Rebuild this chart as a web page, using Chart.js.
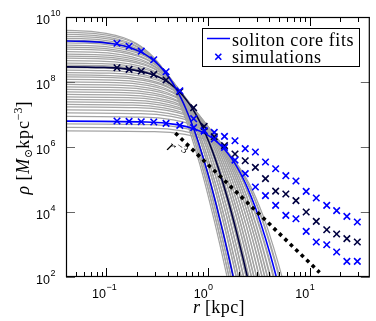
<!DOCTYPE html>
<html>
<head>
<meta charset="utf-8">
<script src="https://cdn.jsdelivr.net/npm/chart.js@4.4.1/dist/chart.umd.min.js"></script>
<style>
  body { margin: 0; background: #fff; }
  #wrap { width: 376px; height: 321px; }
</style>
</head>
<body>
<div id="wrap"><canvas id="soliton-profiles"></canvas></div>
<script>
// simulation radii [kpc] and densities [Msun/kpc^3]
var simRadius = [0.127, 0.167, 0.22, 0.292, 0.386, 0.527, 0.721, 0.915, 1.15, 1.45, 1.84, 2.32,
  2.92, 3.67, 4.62, 5.82, 7.32, 9.23, 11.6, 14.7, 18.4, 23.2, 29.4]
var simHighCore = [1.56e9, 1.26e9, 8.87e8, 4.85e8, 2.07e8, 5.4e7, 7.43e6, 3.18e6, 1.76e6, 9.7e5, 3.93e5, 1.51e5,
  5.87e4, 3.18e4, 1.6e4, 7.85e3, 6.22e3, 2.53e3, 1.19e3, 986, 587, 302, 302]
var simMidCore = [2.75e8, 2.44e8, 2.18e8, 1.71e8, 1.15e8, 5.03e7, 1.62e7, 4.31e6, 2.07e6, 1.1e6, 6.1e5, 3.78e5,
  2.36e5, 1.06e5, 4.37e4, 3.58e4, 2.23e4, 1.0e4, 5.14e3, 2.85e3, 2.1e3, 1.51e3, 1.19e3]
var simLowCore = [6.31e6, 6.14e6, 6.0e6, 5.87e6, 5.32e6, 4.62e6, 3.93e6, 3.06e6, 2.81e6, 2.12e6, 1.56e6, 8.87e5,
  7.02e5, 3.45e5, 2.15e5, 1.31e5, 8.99e4, 4.31e4, 2.7e4, 1.6e4, 1.1e4, 7.33e3, 4.92e3]
var simColors = ['#0000ff', '#000040', '#0000ff']

// soliton core fits: central density and core radius
var fitCoreDensity = [1.9e9, 3.0e8, 6.3e6]
var fitCoreRadius = [0.2, 0.315, 0.82]
var fitColors = ['#0000e6', '#000040', '#0000ff']

// the grey fan of soliton profiles
var greyCoreDensity = [4.06e9, 3.53e9, 3.06e9, 2.66e9, 2.31e9, 2.0e9, 1.68e9, 1.41e9, 1.22e9, 1.06e9,
  8.87e8, 7.43e8, 6.44e8, 5.6e8, 4.69e8, 3.93e8, 3.4e8, 2.85e8, 2.39e8, 2.0e8,
  1.68e8, 1.46e8, 1.22e8, 1.02e8, 8.55e7, 7.16e7, 6.0e7, 5.04e7, 4.22e7, 3.53e7,
  2.96e7, 2.48e7, 2.07e7, 1.74e7, 1.41e7, 1.14e7, 8.87e6, 5.21e6, 4.06e6, 3.18e6]
var greyCoreRadius = [0.165, 0.174, 0.176, 0.186, 0.188, 0.199, 0.204, 0.219, 0.221, 0.234,
  0.239, 0.256, 0.259, 0.275, 0.281, 0.300, 0.304, 0.325, 0.332, 0.355,
  0.362, 0.384, 0.393, 0.420, 0.428, 0.459, 0.468, 0.502, 0.512, 0.548,
  0.560, 0.598, 0.612, 0.654, 0.675, 0.727, 0.757, 0.884, 0.92, 0.989]

// soliton shape: rho/rho_c against r/r_c
var profileX = [0.02, 0.3, 0.6, 0.9, 1.2, 1.5, 1.8, 2.1, 2.4, 2.7, 3.0, 3.5, 4, 5, 6, 7, 8, 10, 12]
var profileRho = [1, 0.9368, 0.7727, 0.5661, 0.3734, 0.2253, 0.1266, 0.06726, 0.03435, 0.01706,
  0.00835, 2.5e-3, 7.55e-4, 7.55e-5, 8.94e-6, 1.27e-6, 2.13e-7, 9.24e-9, 6.4e-10]

// r^-3 guide line
var slopeRadius = [0.476, 12.5]
var slopeDensity = [2.69e6, 138]

var xTicks = [0.1, 1, 10]
var xTickExp = ['\u22121', '0', '1']
var yTicks = [1e2, 1e4, 1e6, 1e8, 1e10]
var yTickExp = ['2', '4', '6', '8', '10']

function solitonPoints(rhoC, rc) {
  return profileX.map(function (s, i) { return { x: s * rc, y: profileRho[i] * rhoC } })
}

var datasets = []
greyCoreDensity.forEach(function (d, i) {
  datasets.push({ data: solitonPoints(d, greyCoreRadius[i]), showLine: true, borderColor: '#a4a4a4',
    borderWidth: 1.25, pointRadius: 0, cubicInterpolationMode: 'monotone', order: 3 })
})
fitCoreDensity.forEach(function (d, i) {
  datasets.push({ data: solitonPoints(d, fitCoreRadius[i]), showLine: true, borderColor: fitColors[i],
    borderWidth: 1.6, pointRadius: 0, cubicInterpolationMode: 'monotone', order: 2 })
})
datasets.push({
  data: slopeRadius.map(function (r, i) { return { x: r, y: slopeDensity[i] } }),
  showLine: true, borderColor: '#000', borderWidth: 3.6, borderDash: [3.6, 4], pointRadius: 0, order: 1
});
[simHighCore, simMidCore, simLowCore].forEach(function (vals, k) {
  datasets.push({
    data: simRadius.map(function (r, i) { return { x: r, y: vals[i] } }),
    showLine: false, pointStyle: 'crossRot', pointRadius: 4.6, pointBorderWidth: 1.6,
    pointBorderColor: simColors[k], borderColor: simColors[k], order: 0
  })
})

var serif = '"Liberation Serif", "DejaVu Serif", serif'
var sans = '"Liberation Sans", Arial, sans-serif'

function drawParts(ctx, parts, x, y, align) {
  var w = 0
  parts.forEach(function (p) {
    ctx.font = p.font
    ctx.letterSpacing = p.ls || '0px'
    p.w = ctx.measureText(p.text).width
    w += p.w
  })
  var cx = align === 'center' ? x - w / 2 : align === 'right' ? x - w : x
  parts.forEach(function (p) {
    ctx.font = p.font
    ctx.letterSpacing = p.ls || '0px'
    ctx.fillText(p.text, cx, y + (p.dy || 0))
    cx += p.w
  })
  ctx.letterSpacing = '0px'
}

var decor = {
  id: 'decor',
  afterDatasetsDraw: function (chart) {
    var ctx = chart.ctx, a = chart.chartArea, xs = chart.scales.x, ys = chart.scales.y
    ctx.save()
    ctx.textAlign = 'left'
    ctx.textBaseline = 'alphabetic'

    // x ticks, inward, top and bottom
    ctx.strokeStyle = '#000'
    ctx.lineWidth = 1
    ctx.beginPath()
    ;[0.01, 0.1, 1, 10].forEach(function (dec) {
      for (var m = 1; m <= 9; m++) {
        var v = m * dec
        if (v <= xs.min || v >= xs.max) continue
        var px = Math.round(xs.getPixelForValue(v)) + 0.5
        var len = m === 1 ? 9 : 5
        ctx.moveTo(px, a.bottom); ctx.lineTo(px, a.bottom - len)
        ctx.moveTo(px, a.top); ctx.lineTo(px, a.top + len)
      }
    })
    ctx.stroke()

    // y ticks
    ctx.strokeStyle = '#666'
    ctx.beginPath()
    yTicks.forEach(function (v) {
      var py = Math.round(ys.getPixelForValue(v)) + 0.5
      ctx.moveTo(a.left, py); ctx.lineTo(a.left + 9, py)
      ctx.moveTo(a.right, py); ctx.lineTo(a.right - 9, py)
    })
    ctx.stroke()

    // frame
    ctx.strokeStyle = '#000'
    ctx.lineWidth = 1.2
    ctx.strokeRect(a.left + 0.5, a.top + 0.5, a.right - a.left - 1, a.bottom - a.top - 1)

    // tick labels
    ctx.fillStyle = '#000'
    xTicks.forEach(function (v, i) {
      var px = xs.getPixelForValue(v)
      ctx.font = '12.5px ' + sans
      ctx.textAlign = 'right'
      ctx.fillText('10', px - 0.5, 297.5)
      ctx.font = '9px ' + sans
      ctx.textAlign = 'left'
      ctx.fillText(xTickExp[i], px, 290)
    })
    yTicks.forEach(function (v, i) {
      var py = ys.getPixelForValue(v)
      ctx.font = '12.5px ' + sans
      ctx.textAlign = 'right'
      ctx.fillText('10', 50, py + 7)
      ctx.font = '9px ' + sans
      ctx.textAlign = 'left'
      ctx.fillText(yTickExp[i], 50.5, py - 1.5)
    })
    ctx.textAlign = 'left'

    // axis titles
    drawParts(ctx, [
      { text: 'r', font: 'italic 18px ' + serif },
      { text: ' [kpc]', font: '18px ' + serif, ls: '0.4px' }
    ], 219, 313, 'center')

    ctx.save()
    ctx.translate(29, 148)
    ctx.rotate(-Math.PI / 2)
    drawParts(ctx, [
      { text: '\u03c1', font: 'italic 18px ' + serif },
      { text: ' [', font: '18px ' + serif, ls: '0.8px' },
      { text: 'M', font: 'italic 18px ' + serif, ls: '0.8px' },
      { text: '\u2299', font: '11px ' + serif, dy: 3 },
      { text: 'kpc', font: '18px ' + serif, ls: '0.8px' },
      { text: '\u22123', font: '12px ' + serif, dy: -7 },
      { text: ']', font: '18px ' + serif }
    ], 0, 0, 'center')
    ctx.restore()

    // legend box
    ctx.fillStyle = '#fff'
    ctx.fillRect(203, 29, 157, 38)
    ctx.strokeStyle = '#000'
    ctx.lineWidth = 1
    ctx.strokeRect(202.5, 28.5, 157, 38)
    ctx.strokeStyle = '#0000ff'
    ctx.lineWidth = 1.6
    ctx.beginPath()
    ctx.moveTo(207, 38.5); ctx.lineTo(230, 38.5)
    ctx.moveTo(215.3, 53.7); ctx.lineTo(221.3, 59.7)
    ctx.moveTo(221.3, 53.7); ctx.lineTo(215.3, 59.7)
    ctx.stroke()
    ctx.fillStyle = '#000'
    ctx.font = '18px ' + serif
    ctx.letterSpacing = '0.6px'
    ctx.fillText('soliton core fits', 232, 45.5)
    ctx.fillText('simulations', 232, 63)
    ctx.letterSpacing = '0px'

    // r^-3 label
    ctx.save()
    ctx.translate(166, 149)
    ctx.rotate(0.62)
    drawParts(ctx, [
      { text: 'r', font: 'italic 17px ' + serif },
      { text: '\u22123', font: '11px ' + serif, dy: -7 }
    ], 0, 0, 'left')
    ctx.restore()

    ctx.restore()
  }
}

new Chart(document.getElementById('soliton-profiles'), {
  type: 'scatter',
  data: { datasets: datasets },
  options: {
    responsive: true,
    maintainAspectRatio: false,
    animation: false,
    events: [],
    layout: { padding: { left: 66, right: 2, top: 17, bottom: 44 } },
    scales: {
      x: { type: 'logarithmic', min: 0.04, max: 39, bounds: 'data', display: false },
      y: { type: 'logarithmic', min: 100, max: 1e10, bounds: 'data', display: false }
    },
    plugins: { legend: { display: false }, tooltip: { enabled: false } }
  },
  plugins: [decor]
})
</script>
</body>
</html>
